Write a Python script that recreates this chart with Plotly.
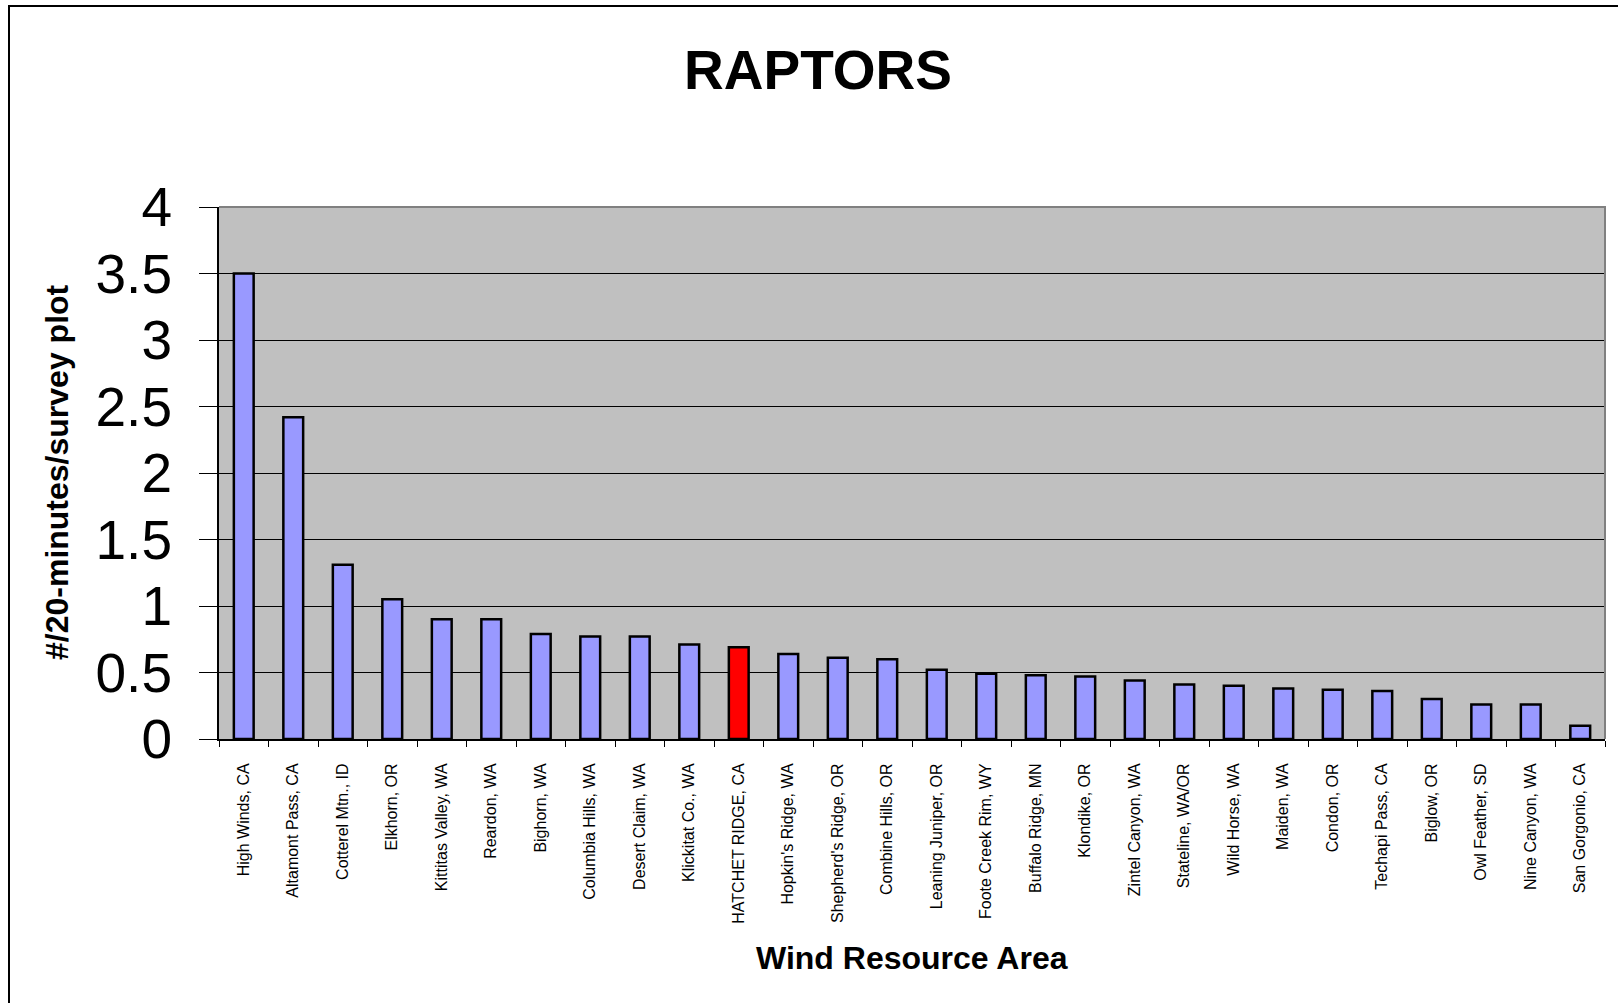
import plotly.graph_objects as go

categories = [
    "High Winds, CA", "Altamont Pass, CA", "Cotterel Mtn., ID", "Elkhorn, OR",
    "Kittitas Valley, WA", "Reardon, WA", "Bighorn, WA", "Columbia Hills, WA",
    "Desert Claim, WA", "Klickitat Co., WA", "HATCHET RIDGE, CA", "Hopkin's Ridge, WA",
    "Shepherd's Ridge, OR", "Combine Hills, OR", "Leaning Juniper, OR", "Foote Creek Rim, WY",
    "Buffalo Ridge, MN", "Klondike, OR", "Zintel Canyon, WA", "Stateline, WA/OR",
    "Wild Horse, WA", "Maiden, WA", "Condon, OR", "Techapi Pass, CA",
    "Biglow, OR", "Owl Feather, SD", "Nine Canyon, WA", "San Gorgonio, CA",
]
values = [
    3.50, 2.42, 1.31, 1.05,
    0.90, 0.90, 0.79, 0.77,
    0.77, 0.71, 0.69, 0.64,
    0.61, 0.60, 0.52, 0.49,
    0.48, 0.47, 0.44, 0.41,
    0.40, 0.38, 0.37, 0.36,
    0.30, 0.26, 0.26, 0.10,
]
highlight = "HATCHET RIDGE, CA"
y_ticks = [0, 0.5, 1, 1.5, 2, 2.5, 3, 3.5, 4]
y_tick_text = ["0", "0.5", "1", "1.5", "2", "2.5", "3", "3.5", "4"]

BAR = "#9999FF"
RED = "#FF0000"
colors = [RED if c == highlight else BAR for c in categories]

FONT = "Arial, 'Liberation Sans', sans-serif"

W, H = 1618, 1003
L, R, T, B = 219, 13, 207, 264
pw, ph = W - L - R, H - T - B

fig = go.Figure(go.Bar(
    x=categories, y=values, width=0.4,
    marker=dict(color=colors, line=dict(color="black", width=2.5)),
))

fig.update_layout(
    width=W, height=H,
    margin=dict(l=L, r=R, t=T, b=B, pad=0),
    paper_bgcolor="white", plot_bgcolor="#C0C0C0",
    font=dict(family=FONT, color="black"),
    showlegend=False,
    title=dict(text="<b>RAPTORS</b>", font=dict(size=55, family=FONT, color="black"),
               x=818 / W, xref="container", xanchor="center",
               y=1 - 70 / H, yref="container", yanchor="middle"),
)

fig.update_xaxes(
    type="category", tickangle=-90, tickfont=dict(size=16, family=FONT),
    ticks="outside", tickson="boundaries", ticklen=6, tickcolor="black", tickwidth=1,
    showline=True, linecolor="black", linewidth=2, showgrid=False,
    ticklabelstandoff=16,
)
fig.update_yaxes(
    range=[0, 4], tickvals=y_ticks, ticktext=y_tick_text,
    tickfont=dict(size=55, family=FONT),
    ticks="outside", ticklen=18, tickcolor="black", tickwidth=1,
    showline=True, linecolor="black", linewidth=2,
    showgrid=True, gridcolor="black", gridwidth=1, zeroline=False,
    ticklabelstandoff=16,
)

# axis titles
fig.add_annotation(text="<b>#/20-minutes/survey plot</b>", textangle=-90,
                   xref="paper", yref="paper", x=(57 - L) / pw, y=(T + ph - 472) / ph,
                   xanchor="center", yanchor="middle", showarrow=False,
                   font=dict(size=32, family=FONT, color="black"))
fig.add_annotation(text="<b>Wind Resource Area</b>",
                   xref="paper", yref="paper", x=(912 - L) / pw, y=(T + ph - 958) / ph,
                   xanchor="center", yanchor="middle", showarrow=False,
                   font=dict(size=32, family=FONT, color="black"))

# gray plot-area border (top/right) and outer chart frame (left/top)
fig.add_shape(type="path", xref="paper", yref="paper",
              path="M 0 1 L 1 1 L 1 0", line=dict(color="#808080", width=2), layer="above")
x9 = (9 - L) / pw
y6 = 1 + (T - 6) / ph
fig.add_shape(type="path", xref="paper", yref="paper",
              path=f"M {x9} -1 L {x9} {y6} L 1.2 {y6}", line=dict(color="black", width=2))

fig.write_html("out.html", config={"displayModeBar": False},
               post_script="document.body.style.margin='0';document.body.style.overflow='hidden';")
